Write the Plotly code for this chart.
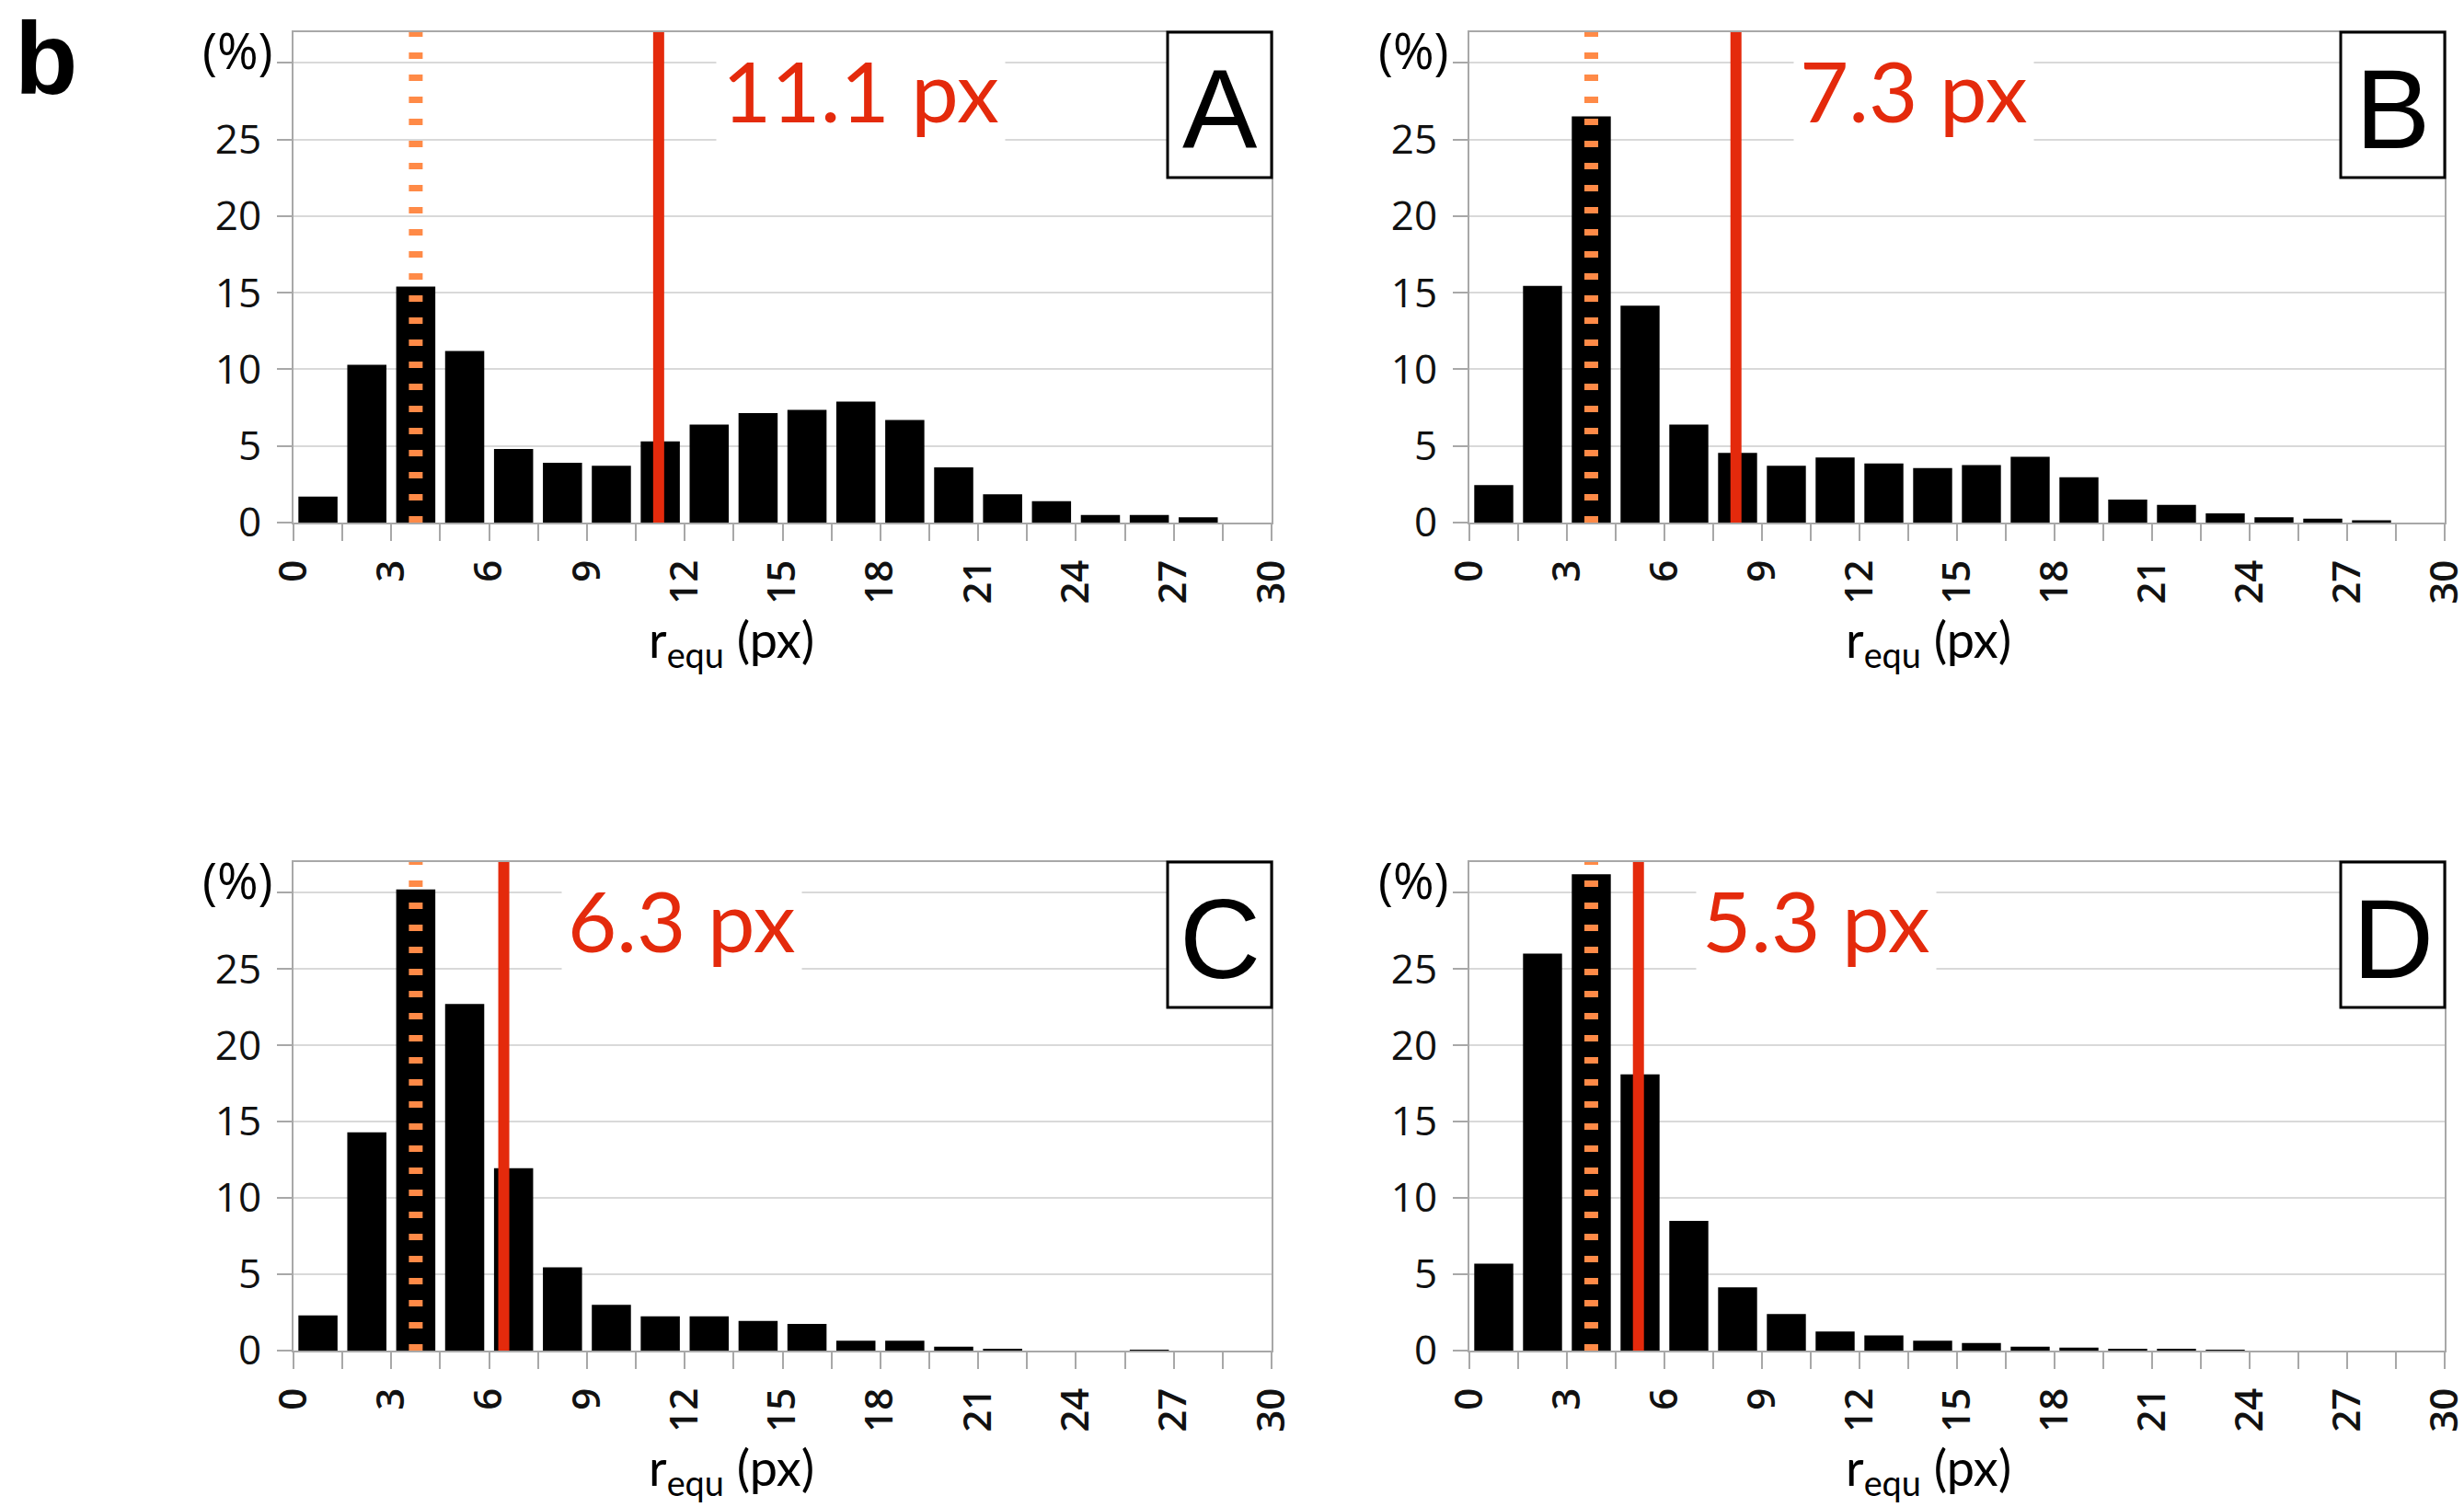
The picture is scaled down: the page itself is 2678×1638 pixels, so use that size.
import plotly.graph_objects as go

W, H = 2678, 1638

# ---------------- data ----------------
bin_centers = [0.75, 2.25, 3.75, 5.25, 6.75, 8.25, 9.75, 11.25, 12.75, 14.25,
               15.75, 17.25, 18.75, 20.25, 21.75, 23.25, 24.75, 26.25, 27.75, 29.25]

pct_A = [1.7, 10.3, 15.4, 11.2, 4.8, 3.9, 3.7, 5.3, 6.4, 7.15,
         7.35, 7.9, 6.7, 3.6, 1.85, 1.4, 0.5, 0.5, 0.35, 0.0]
pct_B = [2.45, 15.45, 26.5, 14.15, 6.4, 4.55, 3.7, 4.25, 3.85, 3.55,
         3.75, 4.3, 2.95, 1.5, 1.15, 0.6, 0.35, 0.25, 0.15, 0.0]
pct_C = [2.3, 14.3, 30.2, 22.7, 11.95, 5.45, 3.0, 2.25, 2.25, 1.95,
         1.75, 0.65, 0.65, 0.25, 0.12, 0.0, 0.0, 0.05, 0.0, 0.0]
pct_D = [5.7, 26.0, 31.2, 18.1, 8.5, 4.15, 2.4, 1.25, 1.0, 0.65,
         0.5, 0.25, 0.2, 0.08, 0.07, 0.06, 0.0, 0.0, 0.0, 0.0]

series = [pct_A, pct_B, pct_C, pct_D]
panel_labels = ["A", "B", "C", "D"]
mean_texts = ["11.1 px", "7.3 px", "6.3 px", "5.3 px"]
mean_line_x = [11.2, 8.2, 6.45, 5.2]
mode_line_x = [3.75, 3.75, 3.75, 3.75]

x_tickvals = [0, 1.5, 3, 4.5, 6, 7.5, 9, 10.5, 12, 13.5, 15, 16.5, 18, 19.5,
              21, 22.5, 24, 25.5, 27, 28.5, 30]
x_ticktext = ["0", "", "3", "", "6", "", "9", "", "12", "", "15", "", "18", "",
              "21", "", "24", "", "27", "", "30"]
y_tickvals = [0, 5, 10, 15, 20, 25, 30]
y_ticktext = ["0", "5", "10", "15", "20", "25", ""]

# ---------------- layout (pixel boxes) ----------------
# left, right, top, bottom of each plot area in pixels
boxes = [(319, 1382, 35, 568), (1597, 2657, 35, 568),
         (319, 1382, 937, 1468), (1597, 2657, 937, 1468)]

RED = "#E42A0C"
ORANGE = "#FF8A47"
AXIS = "#A8A8A8"
GRID = "#D9D9D9"

fig = go.Figure()
shapes = []
annotations = []
layout_axes = {}

for i, (vals, lab, mtxt, mx, ox, box) in enumerate(
        zip(series, panel_labels, mean_texts, mean_line_x, mode_line_x, boxes)):
    n = i + 1
    xa = "x" if n == 1 else f"x{n}"
    ya = "y" if n == 1 else f"y{n}"
    xkey = "xaxis" if n == 1 else f"xaxis{n}"
    ykey = "yaxis" if n == 1 else f"yaxis{n}"
    l, r, t, b = box

    fig.add_trace(go.Bar(x=bin_centers, y=vals, width=1.2, xaxis=xa, yaxis=ya,
                         marker=dict(color="black", line=dict(width=0)),
                         showlegend=False, hoverinfo="x+y"))

    layout_axes[xkey] = dict(
        domain=[l / W, r / W], anchor=ya, range=[0, 30], automargin=False,
        tickmode="array", tickvals=x_tickvals, ticktext=x_ticktext,
        tickangle=-90, ticks="outside", ticklen=18, tickwidth=2, tickcolor=AXIS,
        showgrid=False, zeroline=False, showline=True, linecolor=AXIS,
        linewidth=2, mirror=True, ticklabelstandoff=4,
        ticklabeloverflow="allow",
        tickfont=dict(family="Open Sans", size=42, color="#111", weight=600))
    layout_axes[ykey] = dict(
        domain=[1 - b / H, 1 - t / H], anchor=xa, range=[0, 32], automargin=False,
        tickmode="array", tickvals=y_tickvals, ticktext=y_ticktext,
        ticks="outside", ticklen=16, tickwidth=2, tickcolor=AXIS,
        showgrid=True, gridcolor=GRID, gridwidth=2, zeroline=False,
        showline=True, linecolor=AXIS, linewidth=2, mirror=True,
        ticklabelstandoff=8, ticklabeloverflow="allow",
        tickfont=dict(family="Open Sans", size=44, color="#111"))

    # mode (dotted orange) line
    shapes.append(dict(type="line", xref=xa, yref=ya, x0=ox, x1=ox, y0=0, y1=32,
                       line=dict(color=ORANGE, width=15, dash="7px,17px"),
                       layer="above"))
    # mean (solid red) line
    shapes.append(dict(type="line", xref=xa, yref=ya, x0=mx, x1=mx, y0=0, y1=32,
                       line=dict(color=RED, width=12), layer="above"))

    # red value label
    annotations.append(dict(text=mtxt, xref=xa, yref=f"{ya} domain", x=mx,
                            y=1 - 62 / (b - t), xanchor="left", yanchor="middle",
                            xshift=62, showarrow=False, bgcolor="white",
                            borderpad=6,
                            font=dict(family="Lato", size=92, color=RED)))

    # panel letter box
    shapes.append(dict(type="rect", xref="paper", yref="paper",
                       x0=(r - 113) / W, x1=r / W, y0=1 - (t + 158) / H, y1=1 - t / H,
                       line=dict(color="black", width=3), fillcolor="white",
                       layer="above"))
    annotations.append(dict(text=lab, xref="paper", yref="paper",
                            x=(r - 56.5) / W, y=1 - (t + 84) / H,
                            xanchor="center", yanchor="middle", showarrow=False,
                            font=dict(family="Liberation Sans", size=122, color="black")))

    # "(%)" unit label
    annotations.append(dict(text="(%)", xref="paper", yref="paper",
                            x=(l - 61) / W, y=1 - (t + 19) / H,
                            xanchor="center", yanchor="middle", showarrow=False,
                            font=dict(family="Open Sans", size=54, color="black")))

    # x-axis title
    title_cx = (l + r) / 2 - (56 if n in (1, 3) else 31)
    annotations.append(dict(text="r<sub>equ</sub> (px)", xref="paper", yref="paper",
                            x=title_cx / W, y=1 - (b + 130) / H,
                            xanchor="center", yanchor="middle", showarrow=False,
                            font=dict(family="Lato", size=54, color="black")))

# figure label "b"
annotations.append(dict(text="<b>b</b>", xref="paper", yref="paper",
                        x=50 / W, y=1 - 64 / H, xanchor="center", yanchor="middle",
                        showarrow=False,
                        font=dict(family="Liberation Sans", size=112, color="black")))

fig.update_layout(
    width=W, height=H, autosize=False,
    margin=dict(l=0, r=0, t=0, b=0, pad=0, autoexpand=False),
    paper_bgcolor="white", plot_bgcolor="white",
    bargap=0.2, shapes=shapes, annotations=annotations,
    **layout_axes)

fig.write_html("out.html")
